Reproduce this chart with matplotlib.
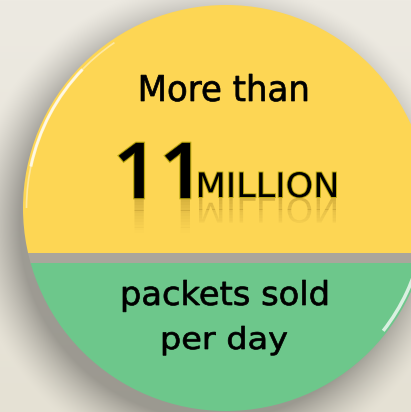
import numpy as np
import matplotlib
matplotlib.use("Agg")
import matplotlib.pyplot as plt
from matplotlib.patches import Circle, Rectangle, PathPatch, Arc
from matplotlib.textpath import TextPath
from matplotlib.font_manager import FontProperties
from matplotlib.transforms import Affine2D

# ---- content ----
top_line = "More than"
big_number = "11"
unit = "MILLION"
bottom_lines = ["packets sold", "per day"]
split_fraction = 0.61  # share of the disc height that is yellow (top part)

W, H = 411, 412
fig = plt.figure(figsize=(W / 100, H / 100), dpi=100)
ax = fig.add_axes([0, 0, 1, 1])
ax.set_xlim(0, W)
ax.set_ylim(H, 0)
ax.axis("off")

cx, cy, R = 226, 208, 203
ysplit = cy - R + split_fraction * 2 * R  # ~252
gap = 10

# ---- background ----
yy, xx = np.mgrid[0:H, 0:W]
top = np.array([237, 234, 226]) / 255
bot = np.array([229, 225, 212]) / 255
t = (yy / H)[..., None]
bg = top * (1 - t) + bot * t
d = np.hypot(xx - (cx - 12), yy - (cy + 16))
shadow = np.clip(1 - (d - R + 8) / 50, 0, 1) ** 1.4 * 0.32
bg = bg * (1 - shadow[..., None])
ax.imshow(bg, extent=(0, W, H, 0), zorder=0, interpolation="bilinear")

# gap band (shadow between the halves)
band = Circle((cx, cy), R, facecolor="#aaa69c", edgecolor="none", zorder=1)
ax.add_patch(band)
band.set_clip_path(Rectangle((0, ysplit - 1), W, gap + 2, transform=ax.transData))

# ---- halves ----
yel = Circle((cx, cy), R, facecolor="#fdd654", edgecolor="none", zorder=2)
ax.add_patch(yel)
yel.set_clip_path(Rectangle((0, 0), W, ysplit, transform=ax.transData))
grn = Circle((cx, cy), R, facecolor="#6dc78b", edgecolor="none", zorder=2)
ax.add_patch(grn)
grn.set_clip_path(Rectangle((0, ysplit + gap), W, H, transform=ax.transData))

# rim highlights (data angles are mirrored because y is inverted)
for th1, th2, lw, a in [(192, 224, 2.2, 0.75), (180, 236, 1.2, 0.45)]:
    hl = Arc((cx, cy), 2 * R - 7, 2 * R - 7, theta1=th1, theta2=th2,
             color="white", lw=lw, alpha=a, zorder=3)
    ax.add_patch(hl)
    hl.set_clip_path(Rectangle((0, 0), W, ysplit, transform=ax.transData))
hl2 = Arc((cx, cy), 2 * R - 7, 2 * R - 7, theta1=12, theta2=38, color="white",
          lw=2.5, alpha=0.75, zorder=3)
ax.add_patch(hl2)
hl2.set_clip_path(Rectangle((0, ysplit + gap), W, H, transform=ax.transData))

fp = FontProperties(family="DejaVu Sans")
fp_num = FontProperties(family="Open Sans", weight="semibold")

def fit_path(s, x0, x1, base, height, prop=fp, mirror=False):
    tp = TextPath((0, 0), s, size=100, prop=prop)
    e = tp.get_extents()
    sx = (x1 - x0) / (e.x1 - e.x0)
    sy = height / e.y1
    if mirror:
        tr = Affine2D().translate(-e.x0, 0).scale(sx, sy).translate(x0, base)
    else:
        tr = Affine2D().translate(-e.x0, 0).scale(sx, -sy).translate(x0, base)
    return tp.transformed(tr)

def draw_text(s, x0, x1, base, height, zorder=5):
    p = fit_path(s, x0, x1, base, height)
    ax.add_patch(PathPatch(p, facecolor="black", edgecolor="black", lw=0.5, zorder=zorder))

# top text
draw_text(top_line, 141, 307, 101, 27)

# big number + unit with outline and reflection
items = [(big_number, 119, 190, 198, 55, fp_num, 0.3), (unit, 199, 336, 197, 25, fp, 0.0)]
for s, x0, x1, base, h, prop, extra in items:
    p = fit_path(s, x0, x1, base, h, prop)
    ax.add_patch(PathPatch(p, facecolor="none", edgecolor="#bba80e", lw=1.3 + 2 * extra, zorder=6))
    ax.add_patch(PathPatch(p, facecolor="black", edgecolor="black", lw=extra, zorder=6))
    pr = fit_path(s, x0, x1, base + 1, h, prop, mirror=True)
    nstrip = 12
    depth = 34
    for i in range(nstrip):
        y0 = base + 1 + i * depth / nstrip
        a = 0.24 * (1 - i / nstrip) ** 1.3
        rp = PathPatch(pr, facecolor="#6a4800", edgecolor="none", alpha=a, zorder=4)
        ax.add_patch(rp)
        rp.set_clip_path(Rectangle((0, y0), W, depth / nstrip + 0.3, transform=ax.transData))

# bottom text
draw_text(bottom_lines[0], 123, 327, 305, 25)
draw_text(bottom_lines[1], 163, 287, 349, 23)

fig.savefig("out.png", dpi=100)
